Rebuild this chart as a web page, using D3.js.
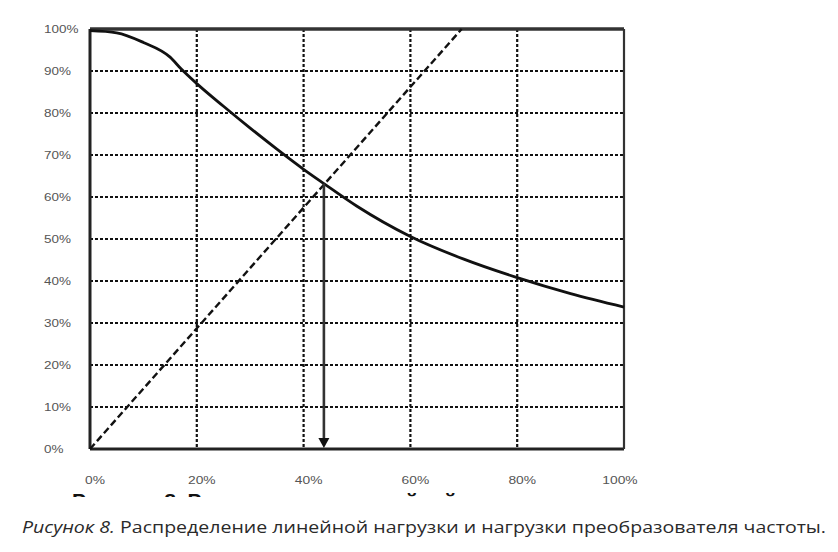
<!DOCTYPE html>
<html>
<head>
<meta charset="utf-8">
<script src="https://cdn.jsdelivr.net/npm/d3@7"></script>
<style>
  html, body { margin: 0; padding: 0; background: #fff; }
  svg { display: block; }
</style>
</head>
<body>
<svg id="chart" width="838" height="552"></svg>
<script>
// ---- data ----
const yTicks = [0, 10, 20, 30, 40, 50, 60, 70, 80, 90, 100];
const xTicks = [0, 20, 40, 60, 80, 100];
const gridX = [20, 40, 60, 80];
const gridY = [10, 20, 30, 40, 50, 60, 70, 80, 90];
// linear load distribution (solid curve): [load %, value %]
const curveX = [0, 5, 10, 15, 17, 20, 25, 30, 35, 40, 43.8, 50, 60, 70, 80, 90, 100];
const curveY = [99.6, 99.1, 96.8, 93.3, 90.6, 87, 81.6, 76.4, 71.4, 66.6, 63.2, 57.8, 50.6, 45.2, 40.8, 37.0, 33.8];
// frequency converter load (dashed line)
const dashX = [0, 69.6];
const dashY = [0, 100];
// marked operating point (arrow)
const arrowX = 43.8;
const arrowY = 63.2;
const caption = "Распределение линейной нагрузки и нагрузки преобразователя частоты.";
const captionLead = "Рисунок 8.";
const cutText = "Рисунок 8. Распределение линейной";

const svg = d3.select("#chart");
const x = d3.scaleLinear().domain([0, 100]).range([90, 624]);
const y = d3.scaleLinear().domain([0, 100]).range([449, 29]);

// grid
const g = svg.append("g");
g.selectAll(".gy").data(gridY).join("line")
  .attr("x1", x(0)).attr("x2", x(100))
  .attr("y1", d => y(d)).attr("y2", d => y(d))
  .attr("stroke", "#111").attr("stroke-width", 2.2).attr("stroke-dasharray", "3,2");
g.selectAll(".gx").data(gridX).join("line")
  .attr("y1", y(100)).attr("y2", y(0))
  .attr("x1", d => x(d)).attr("x2", d => x(d))
  .attr("stroke", "#111").attr("stroke-width", 2.2).attr("stroke-dasharray", "3,2");

// frame
svg.append("line").attr("x1", x(0)).attr("x2", x(100)).attr("y1", y(100)).attr("y2", y(100))
  .attr("stroke", "#333").attr("stroke-width", 3.5);
svg.append("line").attr("x1", x(0)).attr("x2", x(100)).attr("y1", y(0)).attr("y2", y(0))
  .attr("stroke", "#222").attr("stroke-width", 3);
svg.append("line").attr("x1", x(0)).attr("x2", x(0)).attr("y1", y(100)).attr("y2", y(0))
  .attr("stroke", "#222").attr("stroke-width", 3);
svg.append("line").attr("x1", x(100)).attr("x2", x(100)).attr("y1", y(100)).attr("y2", y(0))
  .attr("stroke", "#333").attr("stroke-width", 2.2);

// dashed line
const dashData = dashX.map((v, i) => [v, dashY[i]]);
svg.append("path").datum(dashData)
  .attr("d", d3.line().x(d => x(d[0])).y(d => y(d[1])))
  .attr("fill", "none").attr("stroke", "#111").attr("stroke-width", 2.4).attr("stroke-dasharray", "7,3.5");

// solid curve
const curveData = curveX.map((v, i) => [v, curveY[i]]);
svg.append("path").datum(curveData)
  .attr("d", d3.line().x(d => x(d[0])).y(d => y(d[1])).curve(d3.curveMonotoneX))
  .attr("fill", "none").attr("stroke", "#111").attr("stroke-width", 2.8);

// arrow
svg.append("line")
  .attr("x1", x(arrowX)).attr("x2", x(arrowX))
  .attr("y1", y(arrowY)).attr("y2", y(0) - 9)
  .attr("stroke", "#333").attr("stroke-width", 2.6);
svg.append("path")
  .attr("d", `M${x(arrowX) - 5.5},${y(0) - 11} L${x(arrowX) + 5.5},${y(0) - 11} L${x(arrowX)},${y(0) - 1} Z`)
  .attr("fill", "#111");

// y labels
svg.selectAll(".yl").data(yTicks).join("text")
  .attr("transform", d => `translate(44,${y(d) + 3.5}) scale(1.35,1)`)
  .attr("font-family", "Liberation Sans, Arial, sans-serif")
  .attr("font-size", 10)
  .attr("fill", "#555")
  .text(d => d + "%");

// x labels
svg.selectAll(".xl").data(xTicks).join("text")
  .attr("transform", d => `translate(${d === 100 ? x(d) - 4 : x(d) + 5},484) scale(1.38,1)`)
  .attr("text-anchor", "middle")
  .attr("font-family", "Liberation Sans, Arial, sans-serif")
  .attr("font-size", 10)
  .attr("fill", "#555")
  .text(d => d + "%");

// cut-off text remnant below the axis
svg.append("clipPath").attr("id", "cut").append("rect")
  .attr("x", 0).attr("y", 488).attr("width", 838).attr("height", 9);
svg.append("text")
  .attr("clip-path", "url(#cut)")
  .attr("x", 72).attr("y", 507.5)
  .attr("font-family", "Liberation Sans, Arial, sans-serif")
  .attr("font-weight", "bold")
  .attr("font-size", 21)
  .attr("fill", "#111")
  .text(cutText);

// caption
const cap = svg.append("text")
  .attr("x", 22).attr("y", 533)
  .attr("font-family", "Open Sans, Noto Sans, sans-serif")
  .attr("font-size", 17)
  .attr("fill", "#2a2a2a");
cap.append("tspan").attr("font-style", "italic").text(captionLead);
cap.append("tspan").text(" " + caption);
cap.attr("textLength", 804).attr("lengthAdjust", "spacingAndGlyphs");
</script>
</body>
</html>
